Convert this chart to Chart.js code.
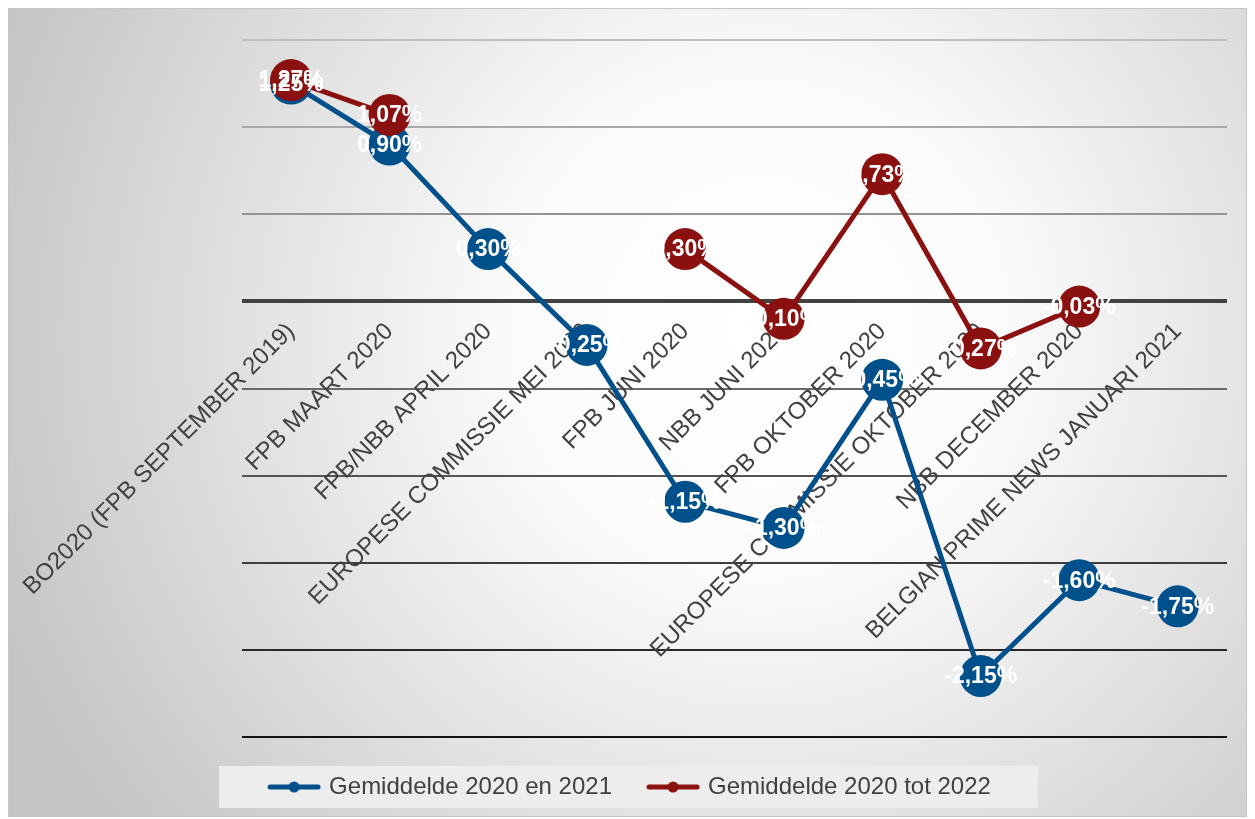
<!DOCTYPE html>
<html><head><meta charset="utf-8">
<script src="https://cdn.jsdelivr.net/npm/chart.js@4"></script>
<style>html,body{margin:0;padding:0;background:#fff}#wrap{width:1255px;height:819px;position:relative}</style>
</head><body><div id="wrap"><canvas id="c"></canvas></div>
<script>
const categories = [
  'BO2020 (FPB SEPTEMBER 2019)',
  'FPB MAART 2020',
  'FPB/NBB APRIL 2020',
  'EUROPESE COMMISSIE MEI 2020',
  'FPB JUNI 2020',
  'NBB JUNI 2020',
  'FPB OKTOBER 2020',
  'EUROPESE COMMISSIE OKTOBER 2020',
  'NBB DECEMBER 2020',
  'BELGIAN PRIME NEWS JANUARI 2021'
];
const gem2020en2021 = [1.25, 0.90, 0.30, -0.25, -1.15, -1.30, -0.45, -2.15, -1.60, -1.75];
const gem2020tot2022 = [1.27, 1.07, null, null, 0.30, -0.10, 0.73, -0.27, -0.03, null];
const seriesNames = ['Gemiddelde 2020 en 2021', 'Gemiddelde 2020 tot 2022'];
const seriesColors = ['#00508c', '#8b1111'];
const yMin = -2.5, yMax = 1.5, yStep = 0.5;

const FONT = '"Liberation Sans", Arial, sans-serif';

function markerCanvas(color) {
  const c = document.createElement('canvas');
  c.width = 54; c.height = 14;
  const x = c.getContext('2d');
  x.strokeStyle = color; x.lineWidth = 5; x.lineCap = 'round';
  x.beginPath(); x.moveTo(3, 7); x.lineTo(51, 7); x.stroke();
  x.fillStyle = color;
  x.beginPath(); x.arc(27, 7, 5.5, 0, Math.PI * 2); x.fill();
  return c;
}
const markers = seriesColors.map(markerCanvas);

function gridColor(v) {
  if (Math.abs(v) < 1e-9) return '#424242';
  const t = (yMax - v) / (yMax - yMin);
  const g = Math.round(0xbf - t * (0xbf - 0x12));
  const h = g.toString(16).padStart(2, '0');
  return '#' + h + h + h;
}

const bgPlugin = {
  id: 'bg',
  beforeDraw(chart) {
    const { ctx, width, height } = chart;
    ctx.save();
    ctx.fillStyle = '#ffffff';
    ctx.fillRect(0, 0, width, height);
    const g = ctx.createRadialGradient(760, 330, 0, 760, 330, 820);
    g.addColorStop(0, '#ffffff');
    g.addColorStop(0.3, '#fbfbfb');
    g.addColorStop(1, '#c4c4c4');
    ctx.fillStyle = g;
    ctx.fillRect(9, 9, width - 18, height - 12);
    ctx.strokeStyle = '#c6c6c6'; ctx.lineWidth = 1;
    ctx.strokeRect(8.5, 8.5, width - 17, height - 11);
    const lg = chart.legend;
    if (lg && lg.legendHitBoxes && lg.legendHitBoxes.length) {
      let l = Infinity, r = -Infinity, t = Infinity, b = -Infinity;
      lg.legendHitBoxes.forEach(h => {
        l = Math.min(l, h.left); r = Math.max(r, h.left + h.width);
        t = Math.min(t, h.top); b = Math.max(b, h.top + h.height);
      });
      ctx.fillStyle = '#ededed';
      ctx.fillRect(l - 52, t - 9, (r - l) + 99, (b - t) + 18);
    }
    ctx.restore();
  }
};

const valuePlugin = {
  id: 'vals',
  afterDatasetsDraw(chart) {
    const ctx = chart.ctx;
    ctx.save();
    ctx.font = 'bold 23px ' + FONT;
    ctx.fillStyle = '#ffffff';
    ctx.textAlign = 'center';
    ctx.textBaseline = 'middle';
    chart.data.datasets.forEach((ds, i) => {
      const meta = chart.getDatasetMeta(i);
      meta.data.forEach((el, j) => {
        const v = ds.data[j];
        if (v === null || v === undefined) return;
        ctx.fillText(v.toFixed(2).replace('.', ',') + '%', el.x, el.y + 1);
      });
    });
    ctx.restore();
  }
};

function ds(i, data, order) {
  return {
    label: seriesNames[i], data: data,
    borderColor: seriesColors[i], backgroundColor: seriesColors[i],
    pointBackgroundColor: seriesColors[i], pointBorderColor: seriesColors[i],
    pointBorderWidth: 0, pointRadius: 21, pointHoverRadius: 21,
    borderWidth: 5, borderJoinStyle: 'round', spanGaps: false, order: order
  };
}

new Chart(document.getElementById('c'), {
  type: 'line',
  data: { labels: categories, datasets: [ds(0, gem2020en2021, 2), ds(1, gem2020tot2022, 1)] },
  options: {
    responsive: true, maintainAspectRatio: false, animation: false, events: [],
    layout: { padding: { left: 35, right: 28, top: 40, bottom: 10 } },
    scales: {
      x: {
        type: 'category', position: { y: 0 }, offset: true, z: 1,
        grid: { display: false, drawTicks: false }, border: { display: false },
        ticks: { autoSkip: false, minRotation: 45, maxRotation: 45, padding: 16, color: '#404040',
          font: { family: FONT, size: 24 } }
      },
      y: {
        min: yMin, max: yMax,
        ticks: { display: false, stepSize: yStep },
        grid: { drawTicks: false,
          color: c => gridColor(c.tick.value),
          lineWidth: c => Math.abs(c.tick.value) < 1e-9 ? 4 : 2 },
        border: { display: false },
        afterFit(scale) { scale.width = 203; }
      }
    },
    plugins: {
      tooltip: { enabled: false },
      legend: {
        position: 'bottom',
        labels: {
          usePointStyle: true, pointStyleWidth: 46, padding: 38, color: '#404040',
          font: { family: FONT, size: 24 },
          generateLabels(chart) {
            return chart.data.datasets.map((d, i) => ({
              text: d.label, pointStyle: markers[i], fillStyle: seriesColors[i],
              strokeStyle: seriesColors[i], lineWidth: 0, hidden: false,
              datasetIndex: i, fontColor: '#404040'
            }));
          }
        }
      }
    }
  },
  plugins: [bgPlugin, valuePlugin]
});
</script>
</body></html>
